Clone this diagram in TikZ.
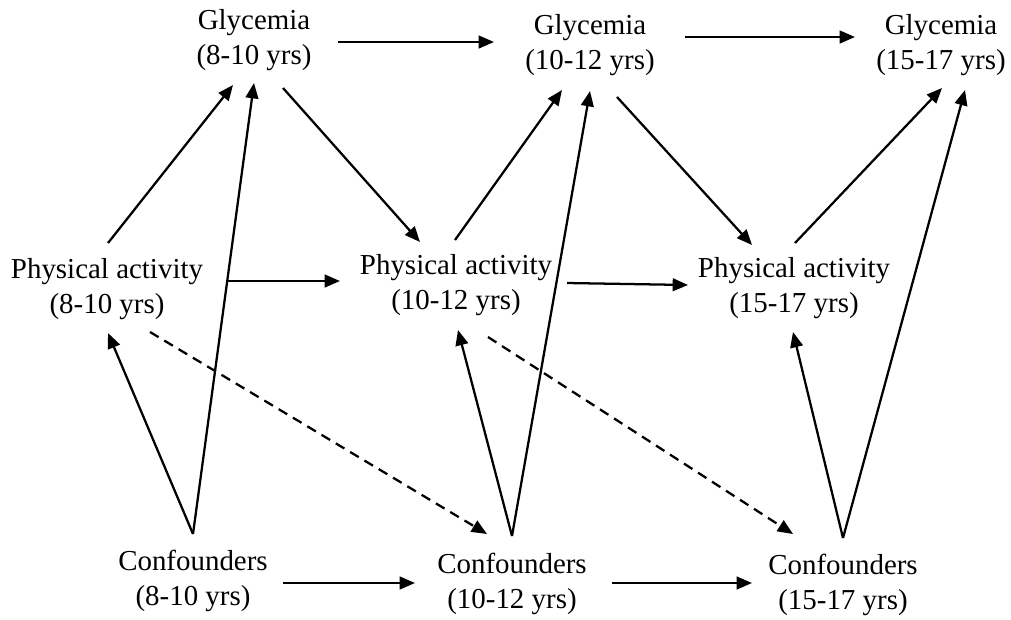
\documentclass[tikz,border=0pt]{standalone}
\usepackage{fontspec}
\setmainfont{Liberation Serif}
\usepackage{tikz}
\usetikzlibrary{arrows.meta, calc}

\tikzset{
  var/.style={align=center, inner sep=0pt, font=\fontsize{21.7pt}{26pt}\selectfont},
  arr/.style={line width=1.7pt, -{Triangle[length=11.5pt, width=9.5pt]}},
  dasharr/.style={arr, dash pattern=on 7.5pt off 5pt}
}

\begin{document}
\begin{tikzpicture}[x=0.75pt, y=-0.75pt]
  \useasboundingbox (0,0) rectangle (1011,619);

  \node[var] (g1) at (254,40) {Glycemia\\(8-10 yrs)};
  \node[var] (g2) at (590,45) {Glycemia\\(10-12 yrs)};
  \node[var] (g3) at (941,45) {Glycemia\\(15-17 yrs)};
  \node[var] (p1) at (107,289) {Physical activity\\(8-10 yrs)};
  \node[var] (p2) at (456,285) {Physical activity\\(10-12 yrs)};
  \node[var] (p3) at (794,288) {Physical activity\\(15-17 yrs)};
  \node[var] (c1) at (193,581) {Confounders\\(8-10 yrs)};
  \node[var] (c2) at (512,584) {Confounders\\(10-12 yrs)};
  \node[var] (c3) at (843,585) {Confounders\\(15-17 yrs)};

  \draw[arr] ($(g1)+(84,2)$) -- ($(g2)+(-96,-3)$);
  \draw[arr] ($(g2)+(95,-8)$) -- ($(g3)+(-86,-8)$);
  \draw[arr] ($(p1)+(120,-8)$) -- ($(p2)+(-116,-4)$);
  \draw[arr] ($(p2)+(111,-2)$) -- ($(p3)+(-106,-3)$);
  \draw[arr] ($(c1)+(90,2)$) -- ($(c2)+(-97,-1)$);
  \draw[arr] ($(c2)+(100,-1)$) -- ($(c3)+(-91,-2)$);

  \draw[arr] ($(p1)+(1,-46)$) -- ($(g1)+(-21,45)$);
  \draw[arr] ($(c1)+(0,-47)$) -- ($(g1)+(0,43)$);
  \draw[arr] ($(g1)+(29,48)$) -- ($(p2)+(-36,-43)$);
  \draw[arr] ($(p2)+(-1,-45)$) -- ($(g2)+(-28,45)$);
  \draw[arr] ($(c2)+(0,-48)$) -- ($(g2)+(0,46)$);
  \draw[arr] ($(g2)+(27,52)$) -- ($(p3)+(-42,-43)$);
  \draw[arr] ($(p3)+(1,-45)$) -- ($(g3)+(1,43)$);
  \draw[arr] ($(c3)+(0,-47)$) -- ($(g3)+(24,45)$);

  \draw[arr] ($(c1)+(0,-47)$) -- ($(p1)+(1,44)$);
  \draw[arr] ($(c2)+(0,-48)$) -- ($(p2)+(2,45)$);
  \draw[arr] ($(c3)+(0,-47)$) -- ($(p3)+(-1,44)$);

  \draw[dasharr] ($(p1)+(43,43)$) -- ($(c2)+(-25,-50)$);
  \draw[dasharr] ($(p2)+(32,52)$) -- ($(c3)+(-50,-51)$);
\end{tikzpicture}
\end{document}
